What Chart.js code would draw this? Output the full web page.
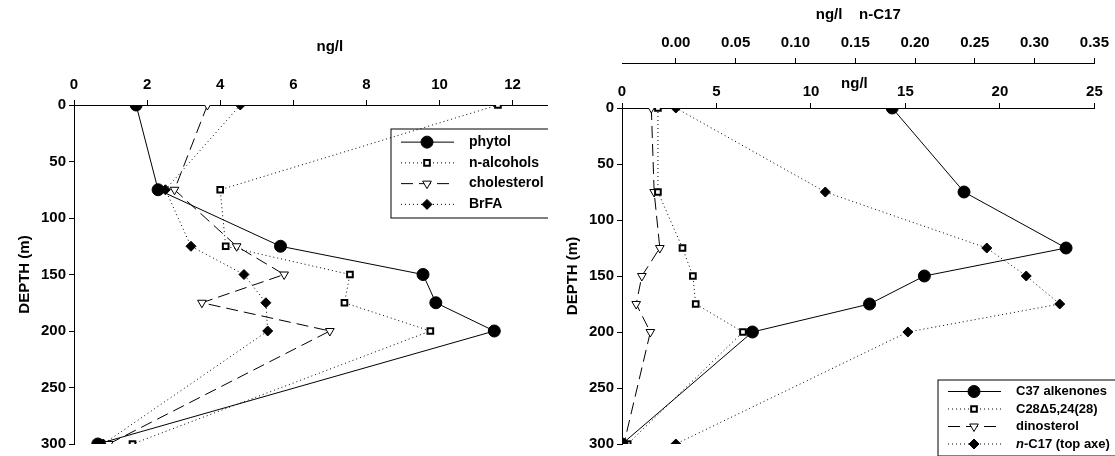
<!DOCTYPE html>
<html><head>
<script src="https://cdn.jsdelivr.net/npm/chart.js@4"></script>
<style>
body{margin:0;background:#fff;width:1115px;height:456px;position:relative;overflow:hidden}
.box{position:absolute;top:0;height:456px;overflow:hidden}
</style></head><body>
<div class="box" style="left:0;width:548px"><div style="width:600px;height:456px"><canvas id="left"></canvas></div></div>
<div class="box" style="left:560px;width:555px"><canvas id="right"></canvas></div>
<script>
const depths = [0, 75, 125, 150, 175, 200, 300];
const phytol = [1.7, 2.3, 5.65, 9.55, 9.9, 11.5, 0.65];
const nAlcohols = [11.6, 4.0, 4.15, 7.55, 7.4, 9.75, 1.6];
const cholesterol = [3.65, 2.75, 4.45, 5.75, 3.5, 7.0, 0.95];
const brFA = [4.55, 2.5, 3.2, 4.65, 5.25, 5.3, 0.8];
const alkenones = [14.3, 18.1, 23.5, 16.0, 13.1, 6.9, 0.0];
const c28 = [1.9, 1.9, 3.2, 3.75, 3.9, 6.4, 0.3];
const dinosterol = [1.55, 1.7, 2.0, 1.05, 0.75, 1.5, 0.1];
const nC17 = [0.0, 0.125, 0.26, 0.293, 0.321, 0.194, 0.0];

Chart.defaults.font.family = '"Liberation Sans", Arial, sans-serif';
Chart.defaults.font.weight = 'bold';
Chart.defaults.font.size = 15;
Chart.defaults.color = '#000';

function pts(xs) { return xs.map((x, i) => ({x: x, y: depths[i]})); }

const styles = {
  circle: {pointStyle: 'circle', pointRadius: 6, pointBackgroundColor: '#000', pointBorderColor: '#000', borderDash: []},
  square: {pointStyle: 'rect', pointRadius: 4, pointBackgroundColor: '#fff', pointBorderColor: '#000', pointBorderWidth: 2, borderDash: [1, 3]},
  tri: {pointStyle: 'triangle', rotation: 180, pointRadius: 5, pointBackgroundColor: '#fff', pointBorderColor: '#000', borderDash: [12, 6]},
  diamond: {pointStyle: 'rectRot', pointRadius: 5, pointBackgroundColor: '#000', pointBorderColor: '#000', borderDash: [1, 3]}
};
function ds(label, xs, st, axis) {
  return Object.assign({label: label, data: pts(xs), showLine: true, borderColor: '#000', borderWidth: 1,
    xAxisID: axis || 'x', pointRotation: st.rotation || 0}, st);
}

// legend box drawn in canvas: line sample + marker
const boxLegend = {
  id: 'boxLegend',
  afterDraw(chart, args, opts) {
    const c = chart.ctx;
    const sets = chart.data.datasets;
    const f = opts.font || 14;
    c.save();
    c.strokeStyle = '#000'; c.lineWidth = 1;
    c.strokeRect(opts.x, opts.y, opts.w, opts.h);
    c.font = 'bold ' + f + 'px "Liberation Sans", Arial, sans-serif';
    c.textBaseline = 'middle';
    sets.forEach((d, i) => {
      const y = opts.y + opts.h / 8 + 2 + i * (opts.h - 6) / 4;
      c.setLineDash(d.borderDash); c.beginPath();
      c.moveTo(opts.x + 10, y); c.lineTo(opts.x + 63, y); c.stroke();
      c.setLineDash([]);
      c.fillStyle = d.pointBackgroundColor; c.strokeStyle = '#000'; c.lineWidth = d.pointBorderWidth || 1;
      Chart.helpers.drawPoint(c, {pointStyle: d.pointStyle, radius: d.pointRadius, rotation: d.pointRotation, borderWidth: d.pointBorderWidth || 1}, opts.x + 36, y);
      c.lineWidth = 1;
      c.fillStyle = '#000';
      const lab = opts.labels ? opts.labels[i] : d.label;
      if (Array.isArray(lab)) {
        c.font = 'bold italic ' + f + 'px "Liberation Sans", Arial, sans-serif';
        c.fillText(lab[0], opts.x + 78, y);
        const w = c.measureText(lab[0]).width;
        c.font = 'bold ' + f + 'px "Liberation Sans", Arial, sans-serif';
        c.fillText(lab[1], opts.x + 78 + w, y);
      } else c.fillText(lab, opts.x + 78, y);
    });
    c.restore();
  }
};

function axisStyle(extra) {
  return Object.assign({
    grid: {display: true, drawOnChartArea: false, drawTicks: true, tickLength: 5, color: '#000'},
    border: {display: true, color: '#000'}
  }, extra);
}

new Chart(document.getElementById('left'), {
  type: 'scatter',
  data: {datasets: [
    ds('phytol', phytol, styles.circle),
    ds('n-alcohols', nAlcohols, styles.square),
    ds('cholesterol', cholesterol, styles.tri),
    ds('BrFA', brFA, styles.diamond)
  ]},
  options: {
    responsive: true, maintainAspectRatio: false, animation: false,
    layout: {padding: {left: 12, right: 14, top: 34, bottom: 4}},
    plugins: {legend: {display: false}, tooltip: {enabled: false},
      boxLegend: {x: 391, y: 129, w: 175, h: 89}},
    scales: {
      x: axisStyle({position: 'top', min: 0, max: 14,
        ticks: {stepSize: 2, padding: 6},
        title: {display: true, text: 'ng/l', padding: {bottom: 14}}}),
      y: axisStyle({reverse: true, min: 0, max: 300,
        ticks: {stepSize: 50},
        title: {display: true, text: 'DEPTH (m)'}})
    }
  },
  plugins: [boxLegend]
});

new Chart(document.getElementById('right'), {
  type: 'scatter',
  data: {datasets: [
    ds('C37 alkenones', alkenones, styles.circle),
    ds('C28\u03945,24(28)', c28, styles.square),
    ds('dinosterol', dinosterol, styles.tri),
    ds('n-C17 (top axe)', nC17, styles.diamond, 'x2')
  ]},
  options: {
    responsive: true, maintainAspectRatio: false, animation: false,
    layout: {padding: {left: 0, right: 6, top: 2, bottom: 6}},
    plugins: {legend: {display: false}, tooltip: {enabled: false},
      boxLegend: {x: 378, y: 380, w: 180, h: 76, font: 13, labels: ['C37 alkenones', 'C28\u03945,24(28)', 'dinosterol', ['n', '-C17 (top axe)']]}},
    scales: {
      x: axisStyle({position: 'top', min: 0, max: 25, weight: 1,
        ticks: {stepSize: 5, padding: 2},
        title: {display: true, text: ' ', padding: 0}}),
      x2: axisStyle({position: 'top', min: -0.045, max: 0.35, weight: 2,
        afterBuildTicks: a => { a.ticks = [0, 0.05, 0.1, 0.15, 0.2, 0.25, 0.3, 0.35].map(v => ({value: v})); },
        ticks: {padding: 6, callback: v => v.toFixed(2)},
        title: {display: true, text: 'ng/l    n-C17', padding: {bottom: 4}}}),
      y: axisStyle({reverse: true, min: 0, max: 300,
        ticks: {stepSize: 50},
        title: {display: true, text: 'DEPTH (m)'}})
    }
  },
  plugins: [boxLegend, {
    id: 'midTitle',
    afterDraw(chart) {
      const c = chart.ctx, s = chart.scales.x;
      c.save(); c.font = 'bold 15px "Liberation Sans", Arial, sans-serif';
      c.textAlign = 'center'; c.fillStyle = '#000';
      c.fillText('ng/l', s.getPixelForValue(12.3), s.bottom - 20);
      c.restore();
    }
  }]
});
</script>
</body></html>
